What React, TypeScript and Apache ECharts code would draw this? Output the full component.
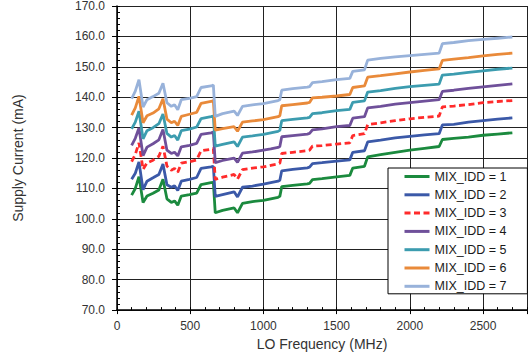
import React, { useEffect, useRef } from "react";
import * as echarts from "echarts";

const FREQ_MHZ = [
  100, 125, 150, 178, 205, 246, 286, 314, 341, 371,
  393, 415, 439, 495, 544, 574, 642, 658, 671, 721,
  800, 823, 857, 925, 1000, 1050, 1100, 1112, 1125, 1200,
  1300, 1315, 1335, 1400, 1500, 1590, 1610, 1690, 1712, 1800,
  1900, 2000, 2100, 2200, 2222, 2300, 2400, 2500, 2600, 2700,
];

const IDD_1 = [
  107.8, 110.0, 113.9, 105.4, 107.5, 108.4, 109.5, 113.0, 106.6, 105.4,
  105.9, 104.5, 107.5, 108.0, 108.5, 111.3, 111.9, 112.0, 102.0, 102.8,
  103.6, 102.0, 105.1, 105.7, 106.1, 106.6, 107.1, 107.4, 110.6, 111.0,
  111.5, 111.7, 112.9, 113.2, 113.8, 114.3, 116.7, 117.3, 120.4, 121.1,
  121.9, 122.6, 123.2, 123.8, 126.1, 126.5, 126.9, 127.5, 127.9, 128.3,
];
const IDD_2 = [
  113.0, 115.0, 118.7, 109.6, 112.4, 113.5, 114.6, 118.0, 111.2, 110.4,
  110.9, 109.3, 112.4, 113.0, 113.6, 116.6, 117.1, 117.3, 107.4, 108.0,
  108.9, 107.2, 110.4, 110.8, 111.4, 111.9, 112.4, 112.7, 115.8, 116.3,
  116.8, 117.0, 118.2, 118.5, 119.0, 119.4, 121.9, 122.4, 125.3, 125.9,
  126.6, 127.1, 127.6, 128.0, 130.9, 131.1, 131.8, 132.3, 132.8, 133.2,
];
const IDD_3 = [
  118.8, 121.2, 125.0, 116.3, 118.4, 119.3, 120.6, 123.9, 117.4, 116.0,
  116.6, 115.3, 118.3, 118.8, 119.4, 122.4, 122.9, 123.1, 113.0, 113.7,
  114.6, 113.1, 116.2, 116.7, 117.1, 117.6, 118.1, 118.3, 121.5, 121.9,
  122.4, 122.6, 123.9, 124.1, 124.6, 125.0, 127.4, 128.0, 131.0, 131.6,
  132.3, 132.9, 133.4, 133.8, 136.8, 137.1, 137.6, 138.2, 138.6, 138.9,
];
const IDD_4 = [
  124.2, 126.5, 129.9, 120.8, 123.6, 124.7, 126.0, 129.4, 122.6, 121.5,
  121.9, 120.7, 123.7, 124.2, 124.8, 127.8, 128.3, 128.5, 118.5, 119.2,
  120.0, 118.6, 121.6, 122.0, 122.6, 123.0, 123.5, 123.8, 127.0, 127.4,
  127.9, 128.1, 129.3, 129.6, 130.3, 130.7, 133.1, 133.6, 136.5, 137.0,
  137.7, 138.2, 138.7, 139.2, 141.9, 142.3, 142.9, 143.4, 143.9, 144.4,
];
const IDD_5 = [
  129.6, 131.8, 135.4, 126.3, 129.0, 130.0, 131.3, 134.5, 128.1, 126.9,
  127.4, 125.9, 129.0, 129.5, 130.2, 133.0, 133.6, 133.8, 123.9, 124.5,
  125.3, 123.8, 126.9, 127.3, 127.8, 128.3, 128.8, 129.1, 132.3, 132.7,
  133.2, 133.4, 134.6, 134.9, 135.6, 136.0, 138.3, 138.8, 141.7, 142.2,
  142.9, 143.5, 143.9, 144.3, 147.3, 147.6, 148.2, 148.7, 149.2, 149.6,
];
const IDD_6 = [
  134.1, 136.5, 140.3, 131.6, 133.9, 134.8, 136.2, 139.5, 132.8, 131.6,
  132.1, 130.7, 133.7, 134.4, 135.0, 138.0, 138.6, 138.9, 129.2, 129.7,
  130.3, 128.8, 131.8, 132.2, 132.6, 133.1, 133.6, 133.9, 137.2, 137.6,
  138.1, 138.3, 139.8, 140.0, 140.4, 140.9, 143.2, 143.7, 146.6, 147.1,
  147.7, 148.3, 148.8, 149.3, 152.1, 152.5, 153.0, 153.6, 154.1, 154.5,
];
const IDD_7 = [
  139.5, 142.0, 145.8, 136.8, 139.2, 140.2, 141.3, 144.6, 138.2, 137.0,
  137.5, 135.9, 139.2, 139.6, 140.2, 143.2, 143.7, 144.0, 133.7, 134.6,
  135.4, 134.0, 137.0, 137.5, 137.9, 138.4, 138.9, 139.2, 142.3, 142.8,
  143.3, 143.5, 144.8, 145.1, 145.8, 146.2, 148.5, 149.0, 152.2, 152.8,
  153.3, 153.7, 154.1, 154.5, 157.6, 158.0, 158.6, 159.0, 159.4, 159.8,
];

const SERIES_NAMES = [
  "MIX_IDD = 1",
  "MIX_IDD = 2",
  "MIX_IDD = 3",
  "MIX_IDD = 4",
  "MIX_IDD = 5",
  "MIX_IDD = 6",
  "MIX_IDD = 7",
];
const SERIES_VALUES = [IDD_1, IDD_2, IDD_3, IDD_4, IDD_5, IDD_6, IDD_7];
const SERIES_COLORS = ["#1b8a3e", "#3b59a8", "#ff2b2b", "#6f509a", "#3c9caf", "#e98a3a", "#98b2da"];

const FONT = '"Liberation Sans", Arial, sans-serif';
const TEXT_COLOR = "#333333";

export default function App() {
  const ref = useRef<HTMLDivElement>(null);

  useEffect(() => {
    if (!ref.current) return;
    const chart = echarts.init(ref.current, undefined, { renderer: "svg" });

    const series = SERIES_NAMES.map((name, i) => ({
      name,
      type: "line",
      xAxisIndex: 0,
      yAxisIndex: 0,
      symbol: "none",
      data: FREQ_MHZ.map((f, j) => [f, SERIES_VALUES[i][j]]),
      lineStyle: {
        color: SERIES_COLORS[i],
        width: 2.8,
        type: i === 2 ? [6, 3.5] : "solid",
      },
      itemStyle: { color: SERIES_COLORS[i] },
      z: 3,
    }));

    chart.setOption({
      animation: false,
      backgroundColor: "#ffffff",
      textStyle: { fontFamily: FONT },
      grid: { left: 117, right: 1, top: 6, bottom: 45, containLabel: false },
      legend: {
        orient: "vertical",
        left: 388,
        top: 168,
        padding: [2, 21, 1, 15],
        itemGap: 5.3,
        itemWidth: 25,
        itemHeight: 14,
        backgroundColor: "#ffffff",
        borderColor: "#000000",
        borderWidth: 1,
        z: 10,
        itemStyle: { opacity: 0, borderWidth: 0 },
        lineStyle: { width: 3 },
        textStyle: { fontSize: 12.5, color: "#1a1a1a", fontFamily: FONT },
        data: SERIES_NAMES,
      },
      xAxis: [
        {
          type: "value",
          min: 0,
          max: 2800,
          interval: 500,
          position: "bottom",
          name: "LO Frequency (MHz)",
          nameLocation: "middle",
          nameGap: 26,
          nameTextStyle: { fontSize: 14, color: TEXT_COLOR, fontFamily: FONT },
          axisLine: { show: true, onZero: false, lineStyle: { color: "#000", width: 1.5 } },
          axisTick: { show: true, inside: false, length: 4, lineStyle: { color: "#000" } },
          axisLabel: {
            fontSize: 12,
            color: TEXT_COLOR,
            margin: 10,
            fontFamily: FONT,
            formatter: (v: number) => (v % 500 === 0 ? String(v) : ""),
          },
          splitLine: { show: true, lineStyle: { color: "#222", width: 1 } },
        },
        {
          type: "value",
          min: 0,
          max: 2800,
          interval: 100,
          position: "bottom",
          axisLine: { show: false, onZero: false },
          axisTick: { show: true, inside: true, length: 3, lineStyle: { color: "#000" } },
          axisLabel: { show: false },
          splitLine: { show: false },
        },
      ],
      yAxis: [
        {
          type: "value",
          min: 70,
          max: 170,
          interval: 10,
          position: "left",
          name: "Supply Current (mA)",
          nameLocation: "middle",
          nameGap: 92,
          nameTextStyle: { fontSize: 14, color: TEXT_COLOR, fontFamily: FONT },
          axisLine: { show: true, onZero: false, lineStyle: { color: "#000", width: 1.5 } },
          axisTick: { show: true, inside: false, length: 5, lineStyle: { color: "#000" } },
          axisLabel: {
            fontSize: 12,
            color: TEXT_COLOR,
            margin: 12,
            fontFamily: FONT,
            formatter: (v: number) => v.toFixed(1),
          },
          splitLine: { show: true, lineStyle: { color: "#222", width: 1 } },
        },
        {
          type: "value",
          min: 70,
          max: 170,
          interval: 2,
          position: "left",
          axisLine: { show: false, onZero: false },
          axisTick: { show: true, inside: true, length: 3, lineStyle: { color: "#000" } },
          axisLabel: { show: false },
          splitLine: { show: false },
        },
      ],
      series,
    });

    return () => chart.dispose();
  }, []);

  return (
    <div
      ref={ref}
      style={{ position: "fixed", left: 0, top: 0, width: 530, height: 356, background: "#fff" }}
    />
  );
}
